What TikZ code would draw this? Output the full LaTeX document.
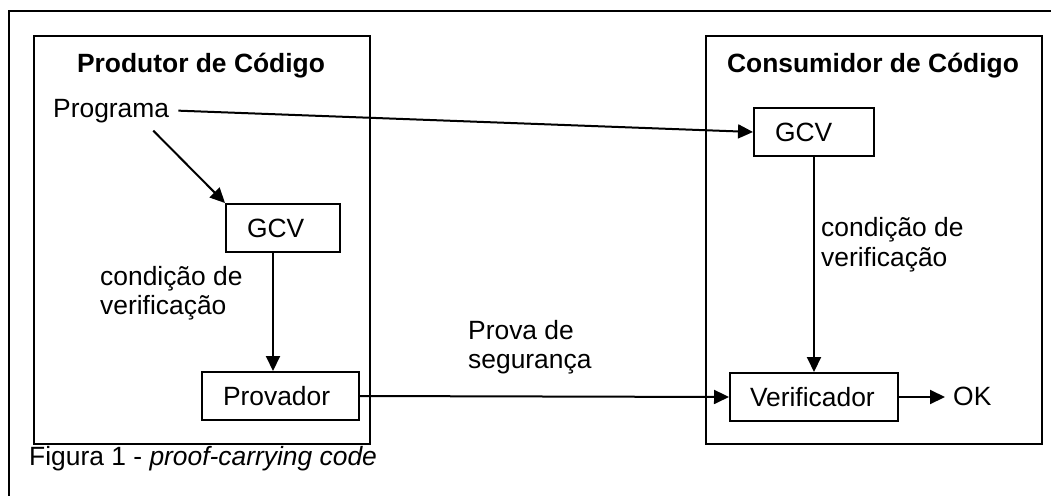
\documentclass[tikz,border=0pt]{standalone}
\usepackage{fontspec}
\setmainfont{Liberation Sans}
\usetikzlibrary{arrows.meta,calc}
\begin{document}
\begin{tikzpicture}[x=1pt,y=-1pt,
  font=\fontsize{26.4}{29.5}\selectfont,
  ln/.style={line width=2pt},
  arr/.style={line width=2pt,-{Triangle[length=15pt,width=14pt]}},
  frame/.style={draw,line width=2pt,inner sep=0pt,minimum height=48pt,anchor=north west},
  txt/.style={inner sep=0pt,anchor=base west},
  ttl/.style={inner sep=0pt,anchor=base,font=\fontsize{26.4}{29.5}\selectfont\bfseries}]
\useasboundingbox (0,0) rectangle (1051,495);
% outer frame (only top and left edges are visible)
\draw[ln] (9,496) -- (9,11) -- (1052,11);
% producer and consumer boxes
\node[draw,line width=2pt,inner sep=0pt,anchor=north west,minimum width=336pt,minimum height=408pt] (prod) at (33,35) {};
\node[draw,line width=2pt,inner sep=0pt,anchor=north west,minimum width=336pt,minimum height=408pt] (cons) at (705,35) {};
\node[ttl] (prodt) at (201,72) {Produtor de Código};
\node[ttl] (const) at (873,72) {Consumidor de Código};
% nodes
\node[txt] (prog) at (53,117) {Programa};
\node[frame,minimum width=114pt,text width=72pt,inner xsep=21pt,align=left] (gcva) at (225,203) {GCV};
\node[frame,minimum width=157pt,text width=115pt,inner xsep=21pt,align=left] (prov) at (201,371) {Provador};
\node[frame,minimum width=120pt,text width=78pt,inner xsep=21pt,align=left] (gcvb) at (753,107) {GCV};
\node[frame,minimum width=168pt,text width=128pt,inner xsep=20pt,align=left] (verif) at (729,372) {Verificador};
\node[txt] (ok) at (953,405) {OK};
% labels (anchor at the baseline of the last line)
\node[txt,align=left] (cva) at (100,314.5) {condição de\\verificação};
\node[txt,align=left] (cvb) at (821,266) {condição de\\verificação};
\node[txt,align=left] (pseg) at (468,368.5) {Prova de\\segurança};
\node[txt] (cap) at (29,465) {Figura 1 - \textit{proof-carrying code}};
% connectors
\draw[arr] ([xshift=9pt]prog.east) -- (gcvb.west);
\draw[arr] ([xshift=-16pt,yshift=-8pt]prog.south east) -- (gcva.north west);
\draw[arr] ([xshift=48pt]gcva.south west) -- ([xshift=48pt]gcva.south west |- prov.north);
\draw[arr] (gcvb.south) -- (verif.north);
\draw[arr] (prov.east) -- (verif.west);
\draw[arr] (verif.east) -- ([xshift=-8pt]ok.west |- verif.east);
\end{tikzpicture}
\end{document}
